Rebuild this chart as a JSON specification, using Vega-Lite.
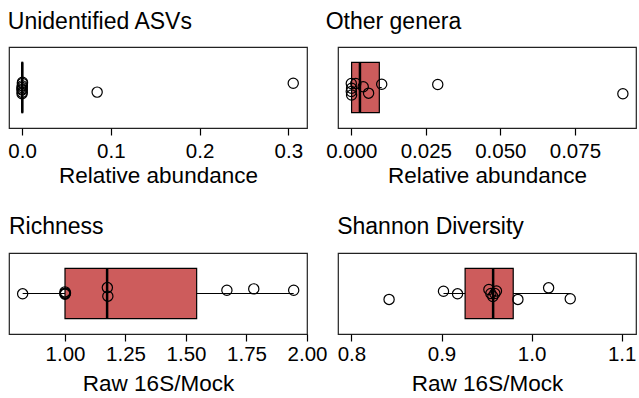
{
  "$schema": "https://vega.github.io/schema/vega-lite/v6.json",
  "autosize": {"type": "pad"},
  "padding": {"left": 7, "top": 10, "right": 0, "bottom": 0},
  "background": "white",
  "bounds": "flush",
  "spacing": {"row": 125, "column": 31},
  "config": {
    "font": "Liberation Sans",
    "view": {"stroke": "#222222", "strokeWidth": 1.2},
    "title": {"anchor": "start", "fontSize": 23, "fontWeight": "normal", "color": "black", "offset": 16, "font": "Liberation Sans"},
    "axisX": {"domain": false, "grid": false, "tickColor": "black", "tickSize": 7, "tickWidth": 1.2, "labelFontSize": 20.5, "labelColor": "black", "labelPadding": 6, "labelFlush": false, "labelOverlap": false, "labelBound": false, "titleFontSize": 22.5, "titleFontWeight": "normal", "titleColor": "black", "titlePadding": 6, "labelFont": "Liberation Sans", "titleFont": "Liberation Sans"}
  },
  "datasets": {
    "boxes": [
      {"panel": "A", "q1": 0.0, "median": 0.0002, "q3": 0.0005, "wlo": 0.0, "whi": 0.0005},
      {"panel": "B", "q1": 0.0001, "median": 0.0029, "q3": 0.0094, "wlo": 0.0, "whi": 0.0102},
      {"panel": "C", "q1": 1.0, "median": 1.174, "q3": 1.544, "wlo": 0.825, "whi": 1.945},
      {"panel": "D", "q1": 0.9262, "median": 0.9573, "q3": 0.9796, "wlo": 0.9022, "whi": 1.0429}
    ],
    "points": [
      {"panel": "A", "value": 0.0005, "jitter": 0.565},
      {"panel": "A", "value": 0.0, "jitter": 0.5},
      {"panel": "A", "value": 0.0003, "jitter": 0.52},
      {"panel": "A", "value": 0.0002, "jitter": 0.44},
      {"panel": "A", "value": 0.0, "jitter": 0.423},
      {"panel": "A", "value": 0.0001, "jitter": 0.47},
      {"panel": "A", "value": 0.0004, "jitter": 0.55},
      {"panel": "A", "value": 0.0, "jitter": 0.48},
      {"panel": "A", "value": 0.0846, "jitter": 0.443},
      {"panel": "A", "value": 0.3055, "jitter": 0.552},
      {"panel": "B", "value": 0.0, "jitter": 0.55},
      {"panel": "B", "value": 0.0001, "jitter": 0.49},
      {"panel": "B", "value": 0.0, "jitter": 0.45},
      {"panel": "B", "value": 0.0001, "jitter": 0.407},
      {"panel": "B", "value": 0.0015, "jitter": 0.55},
      {"panel": "B", "value": 0.004, "jitter": 0.51},
      {"panel": "B", "value": 0.0058, "jitter": 0.43},
      {"panel": "B", "value": 0.0102, "jitter": 0.54},
      {"panel": "B", "value": 0.029, "jitter": 0.537},
      {"panel": "B", "value": 0.0911, "jitter": 0.423},
      {"panel": "C", "value": 0.825, "jitter": 0.496},
      {"panel": "C", "value": 1.0, "jitter": 0.52},
      {"panel": "C", "value": 1.0, "jitter": 0.49},
      {"panel": "C", "value": 1.002, "jitter": 0.505},
      {"panel": "C", "value": 1.0, "jitter": 0.5},
      {"panel": "C", "value": 1.175, "jitter": 0.573},
      {"panel": "C", "value": 1.177, "jitter": 0.467},
      {"panel": "C", "value": 1.669, "jitter": 0.54},
      {"panel": "C", "value": 1.78, "jitter": 0.557},
      {"panel": "C", "value": 1.945, "jitter": 0.54},
      {"panel": "D", "value": 0.8418, "jitter": 0.427},
      {"panel": "D", "value": 0.9022, "jitter": 0.528},
      {"panel": "D", "value": 0.9178, "jitter": 0.496},
      {"panel": "D", "value": 0.9526, "jitter": 0.55},
      {"panel": "D", "value": 0.9548, "jitter": 0.5},
      {"panel": "D", "value": 0.957, "jitter": 0.463},
      {"panel": "D", "value": 0.9592, "jitter": 0.5},
      {"panel": "D", "value": 0.961, "jitter": 0.53},
      {"panel": "D", "value": 0.9848, "jitter": 0.427},
      {"panel": "D", "value": 1.0189, "jitter": 0.57},
      {"panel": "D", "value": 1.0429, "jitter": 0.435}
    ]
  },
  "columns": 2,
  "concat": [
    {
      "title": {"text": "Unidentified ASVs", "offset": 13},
      "width": 298, "height": 81,
      "layer": [
        {"data": {"name": "boxes"}, "transform": [{"filter": "datum.panel == 'A'"}],
         "mark": {"type": "rule", "color": "black", "strokeWidth": 1},
         "encoding": {
           "x": {"field": "wlo", "type": "quantitative", "scale": {"domain": [-0.0147, 0.321], "nice": false, "zero": false}, "axis": {"values": [0, 0.1, 0.2, 0.3], "format": ".1f", "title": "Relative abundance", "labelPadding": 6.5, "titlePadding": 2}},
           "x2": {"field": "whi"},
           "y": {"datum": 0.5, "type": "quantitative", "scale": {"domain": [0, 1], "nice": false}, "axis": null}}},
        {"data": {"name": "boxes"}, "transform": [{"filter": "datum.panel == 'A'"}],
         "mark": {"type": "rect", "fill": "#CD5C5C", "stroke": "black", "strokeWidth": 1.5},
         "encoding": {"x": {"field": "q1", "type": "quantitative"}, "x2": {"field": "q3"}, "y": {"datum": 0.19, "type": "quantitative"}, "y2": {"datum": 0.81}}},
        {"data": {"name": "boxes"}, "transform": [{"filter": "datum.panel == 'A'"}],
         "mark": {"type": "rule", "color": "black", "strokeWidth": 2.5},
         "encoding": {"x": {"field": "median", "type": "quantitative"}, "y": {"datum": 0.19, "type": "quantitative"}, "y2": {"datum": 0.81}}},
        {"data": {"name": "points"}, "transform": [{"filter": "datum.panel == 'A'"}],
         "mark": {"type": "point", "shape": "circle", "size": 105, "filled": false, "stroke": "black", "strokeWidth": 1.2, "opacity": 1},
         "encoding": {"x": {"field": "value", "type": "quantitative"}, "y": {"field": "jitter", "type": "quantitative"}}}
      ]
    },
    {
      "title": {"text": "Other genera", "offset": 13},
      "width": 298, "height": 81,
      "layer": [
        {"data": {"name": "boxes"}, "transform": [{"filter": "datum.panel == 'B'"}],
         "mark": {"type": "rule", "color": "black", "strokeWidth": 1},
         "encoding": {
           "x": {"field": "wlo", "type": "quantitative", "scale": {"domain": [-0.00446, 0.0955], "nice": false, "zero": false}, "axis": {"values": [0, 0.025, 0.05, 0.075], "format": ".3f", "title": "Relative abundance", "labelPadding": 6.5, "titlePadding": 2}},
           "x2": {"field": "whi"},
           "y": {"datum": 0.5, "type": "quantitative", "scale": {"domain": [0, 1], "nice": false}, "axis": null}}},
        {"data": {"name": "boxes"}, "transform": [{"filter": "datum.panel == 'B'"}],
         "mark": {"type": "rect", "fill": "#CD5C5C", "stroke": "black", "strokeWidth": 1.2},
         "encoding": {"x": {"field": "q1", "type": "quantitative"}, "x2": {"field": "q3"}, "y": {"datum": 0.19, "type": "quantitative"}, "y2": {"datum": 0.81}}},
        {"data": {"name": "boxes"}, "transform": [{"filter": "datum.panel == 'B'"}],
         "mark": {"type": "rule", "color": "black", "strokeWidth": 2.5},
         "encoding": {"x": {"field": "median", "type": "quantitative"}, "y": {"datum": 0.19, "type": "quantitative"}, "y2": {"datum": 0.81}}},
        {"data": {"name": "points"}, "transform": [{"filter": "datum.panel == 'B'"}],
         "mark": {"type": "point", "shape": "circle", "size": 105, "filled": false, "stroke": "black", "strokeWidth": 1.2, "opacity": 1},
         "encoding": {"x": {"field": "value", "type": "quantitative"}, "y": {"field": "jitter", "type": "quantitative"}}}
      ]
    },
    {
      "title": {"text": "Richness", "offset": 14},
      "width": 298, "height": 81,
      "layer": [
        {"data": {"name": "boxes"}, "transform": [{"filter": "datum.panel == 'C'"}],
         "mark": {"type": "rule", "color": "black", "strokeWidth": 1},
         "encoding": {
           "x": {"field": "wlo", "type": "quantitative", "scale": {"domain": [0.7686, 2.0], "nice": false, "zero": false}, "axis": {"values": [1, 1.25, 1.5, 1.75, 2], "format": ".2f", "title": "Raw 16S/Mock", "labelPadding": 3.5, "titlePadding": 7}},
           "x2": {"field": "whi"},
           "y": {"datum": 0.5, "type": "quantitative", "scale": {"domain": [0, 1], "nice": false}, "axis": null}}},
        {"data": {"name": "boxes"}, "transform": [{"filter": "datum.panel == 'C'"}],
         "mark": {"type": "rect", "fill": "#CD5C5C", "stroke": "black", "strokeWidth": 1.2},
         "encoding": {"x": {"field": "q1", "type": "quantitative"}, "x2": {"field": "q3"}, "y": {"datum": 0.19, "type": "quantitative"}, "y2": {"datum": 0.81}}},
        {"data": {"name": "boxes"}, "transform": [{"filter": "datum.panel == 'C'"}],
         "mark": {"type": "rule", "color": "black", "strokeWidth": 2.5},
         "encoding": {"x": {"field": "median", "type": "quantitative"}, "y": {"datum": 0.19, "type": "quantitative"}, "y2": {"datum": 0.81}}},
        {"data": {"name": "points"}, "transform": [{"filter": "datum.panel == 'C'"}],
         "mark": {"type": "point", "shape": "circle", "size": 105, "filled": false, "stroke": "black", "strokeWidth": 1.2, "opacity": 1},
         "encoding": {"x": {"field": "value", "type": "quantitative"}, "y": {"field": "jitter", "type": "quantitative"}}}
      ]
    },
    {
      "title": {"text": "Shannon Diversity", "offset": 14},
      "width": 298, "height": 81,
      "layer": [
        {"data": {"name": "boxes"}, "transform": [{"filter": "datum.panel == 'D'"}],
         "mark": {"type": "rule", "color": "black", "strokeWidth": 1},
         "encoding": {
           "x": {"field": "wlo", "type": "quantitative", "scale": {"domain": [0.7851, 1.1159], "nice": false, "zero": false}, "axis": {"values": [0.8, 0.9, 1.0, 1.1], "format": ".1f", "title": "Raw 16S/Mock", "labelPadding": 3.5, "titlePadding": 7}},
           "x2": {"field": "whi"},
           "y": {"datum": 0.5, "type": "quantitative", "scale": {"domain": [0, 1], "nice": false}, "axis": null}}},
        {"data": {"name": "boxes"}, "transform": [{"filter": "datum.panel == 'D'"}],
         "mark": {"type": "rect", "fill": "#CD5C5C", "stroke": "black", "strokeWidth": 1.2},
         "encoding": {"x": {"field": "q1", "type": "quantitative"}, "x2": {"field": "q3"}, "y": {"datum": 0.19, "type": "quantitative"}, "y2": {"datum": 0.81}}},
        {"data": {"name": "boxes"}, "transform": [{"filter": "datum.panel == 'D'"}],
         "mark": {"type": "rule", "color": "black", "strokeWidth": 2.5},
         "encoding": {"x": {"field": "median", "type": "quantitative"}, "y": {"datum": 0.19, "type": "quantitative"}, "y2": {"datum": 0.81}}},
        {"data": {"name": "points"}, "transform": [{"filter": "datum.panel == 'D'"}],
         "mark": {"type": "point", "shape": "circle", "size": 105, "filled": false, "stroke": "black", "strokeWidth": 1.2, "opacity": 1},
         "encoding": {"x": {"field": "value", "type": "quantitative"}, "y": {"field": "jitter", "type": "quantitative"}}}
      ]
    }
  ],
  "resolve": {"scale": {"x": "independent"}}
}
